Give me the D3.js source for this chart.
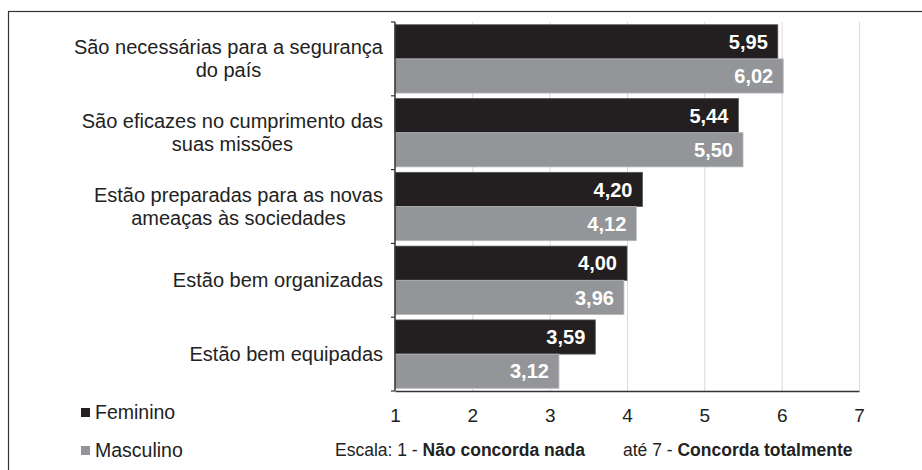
<!DOCTYPE html>
<html>
<head>
<meta charset="utf-8">
<script src="https://cdn.jsdelivr.net/npm/d3@7"></script>
<style>
body { margin: 0; background: #fff; }
svg { display: block; font-family: "Liberation Sans", Arial, sans-serif; }
</style>
</head>
<body>
<div id="chart"></div>
<script>
// data
const categories = [
	["São necessárias para a segurança", "do país"],
	["São eficazes no cumprimento das", "suas missões"],
	["Estão preparadas para as novas", "ameaças às sociedades"],
	["Estão bem organizadas"],
	["Estão bem equipadas"]
];
const feminino = [5.95, 5.44, 4.20, 4.00, 3.59];
const masculino = [6.02, 5.50, 4.12, 3.96, 3.12];
const xTicks = [1, 2, 3, 4, 5, 6, 7];
const seriesNames = ["Feminino", "Masculino"];
const seriesColors = ["#231f20", "#939598"];

const w = 922, h = 470;
const margin = {left: 395, right: 63, top: 22, bottom: 79};

const svg = d3.select("#chart")
	.append("svg")
	.attr("width", w)
	.attr("height", h);

// frame round the figure
svg.append("rect")
	.attr("x", 8.5)
	.attr("y", 11.5)
	.attr("width", 930)
	.attr("height", 480)
	.attr("fill", "none")
	.attr("stroke", "#333")
	.attr("stroke-width", 1.2);

// scales
const x = d3.scaleLinear()
	.domain([1, 7])
	.range([margin.left, w - margin.right]);

const y = d3.scaleBand()
	.domain(d3.range(categories.length))
	.range([margin.top, h - margin.bottom]);

const inner = d3.scaleBand()
	.domain([0, 1])
	.range([0, y.bandwidth()])
	.paddingOuter(0.08);

// grid lines
svg.append("g")
	.selectAll("line")
	.data(xTicks.slice(1))
	.join("line")
		.attr("x1", d => x(d) + 0.5)
		.attr("x2", d => x(d) + 0.5)
		.attr("y1", margin.top)
		.attr("y2", h - margin.bottom)
		.attr("stroke", "#d9d9d9")
		.attr("stroke-width", 1);

// bars
const rows = categories.map((c, i) => ({i: i, values: [feminino[i], masculino[i]]}));

const group = svg.append("g")
	.selectAll("g")
	.data(rows)
	.join("g")
		.attr("transform", d => `translate(0,${y(d.i)})`);

group.selectAll("rect")
	.data(d => d.values.map((v, k) => ({v: v, k: k})))
	.join("rect")
		.attr("x", x(1))
		.attr("y", d => inner(d.k))
		.attr("width", d => x(d.v) - x(1))
		.attr("height", inner.bandwidth())
		.attr("fill", d => seriesColors[d.k])
		.attr("stroke", d => d.k === 0 ? "#555" : "#b5b6b8")
		.attr("stroke-width", 0.8);

// value labels inside bars
group.selectAll("text")
	.data(d => d.values.map((v, k) => ({v: v, k: k})))
	.join("text")
		.attr("x", d => x(d.v) - 10)
		.attr("y", d => inner(d.k) + inner.bandwidth() / 2)
		.attr("dy", "0.36em")
		.attr("text-anchor", "end")
		.style("font-size", "20px")
		.style("font-weight", "bold")
		.style("fill", "#fff")
		.text(d => d.v.toFixed(2).replace(".", ","));

// axes
svg.append("g")
	.attr("transform", `translate(0,${h - margin.bottom})`)
	.call(d3.axisBottom(x).tickValues(xTicks).tickSize(0).tickPadding(18).tickFormat(d3.format("d")))
	.call(g => g.select(".domain").attr("stroke", "#333").attr("stroke-width", 1.5))
	.call(g => g.selectAll("text").style("font-size", "19px").style("fill", "#222").style("font-family", "Liberation Sans, Arial, sans-serif"));

const axisY = svg.append("g")
	.attr("transform", `translate(${margin.left},0)`);

axisY.append("line")
	.attr("y1", margin.top)
	.attr("y2", h - margin.bottom)
	.attr("stroke", "#333")
	.attr("stroke-width", 1.5);

axisY.selectAll(".tk")
	.data(d3.range(categories.length + 1))
	.join("line")
		.attr("class", "tk")
		.attr("x1", -4)
		.attr("x2", 0)
		.attr("y1", d => margin.top + d * y.step())
		.attr("y2", d => margin.top + d * y.step())
		.attr("stroke", "#333")
		.attr("stroke-width", 1.2);

// category labels: block right aligned, each line centred in the block
const labelRight = 383;
const lineH = 23;
categories.forEach((lines, i) => {
	const g = svg.append("g");
	const texts = lines.map((t, j) => g.append("text")
		.attr("text-anchor", "middle")
		.attr("dy", "0.35em")
		.attr("y", y(i) + y.bandwidth() / 2 + (j - (lines.length - 1) / 2) * lineH)
		.style("font-size", "20px")
		.style("fill", "#222")
		.text(t));
	const bw = d3.max(texts, t => t.node().getComputedTextLength());
	texts.forEach(t => t.attr("x", labelRight - bw / 2));
});

// legend
const legend = svg.append("g")
	.selectAll("g")
	.data(seriesNames)
	.join("g")
		.attr("transform", (d, i) => `translate(81,${412 + i * 38})`);

legend.append("rect")
	.attr("x", 0)
	.attr("y", -4)
	.attr("width", 9)
	.attr("height", 9)
	.attr("fill", (d, i) => seriesColors[i]);

legend.append("text")
	.attr("x", 14)
	.attr("dy", "0.36em")
	.style("font-size", "19.5px")
	.style("fill", "#222")
	.text(d => d);

// scale note
const note = svg.append("text")
	.attr("x", 335)
	.attr("y", 450)
	.attr("dy", "0.36em")
	.style("font-size", "17.5px")
	.style("fill", "#222");
note.append("tspan").text("Escala: 1 - ");
note.append("tspan").style("font-weight", "bold").text("Não concorda nada");
note.append("tspan").attr("x", 623).text("até 7 - ");
note.append("tspan").style("font-weight", "bold").text("Concorda totalmente");
</script>
</body>
</html>
